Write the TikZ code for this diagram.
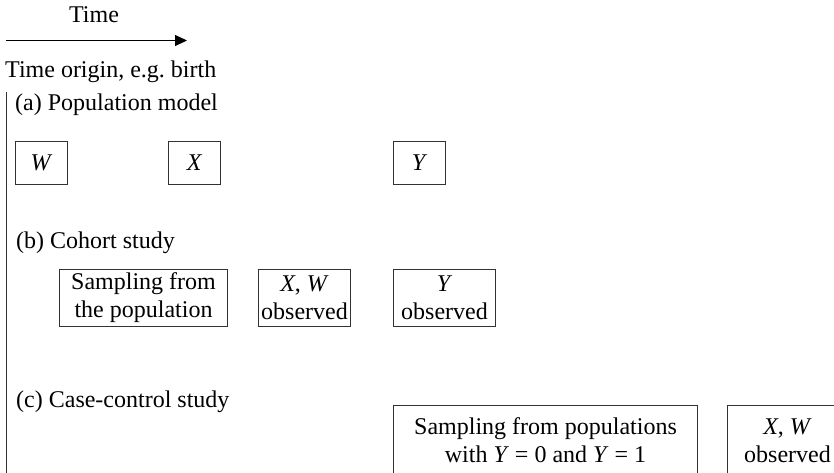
\documentclass[tikz,border=0pt]{standalone}
\usepackage{fontspec}
\setmainfont{Liberation Serif}
\usetikzlibrary{arrows.meta,positioning}

\definecolor{framecolor}{RGB}{50,50,50}

\begin{document}
\begin{tikzpicture}[x=1pt, y=-1pt,
    every node/.style={font=\fontsize{24}{28}\selectfont, inner sep=0pt},
    caption/.style={anchor=base west},
    varbox/.style={draw=framecolor, line width=1pt, anchor=north west, minimum width=52pt, minimum height=43pt},
    stage/.style={draw=framecolor, line width=1pt, anchor=north west, align=center, minimum height=57pt},
    timeline/.style={draw=framecolor, line width=1pt},
    axis/.style={-{Triangle[length=12pt,width=11pt]}, line width=1pt}
    ]
    \clip (0,0) rectangle (834,473);

    % Time axis
    \node[anchor=base] (time) at (94,23) {Time};
    \coordinate (t0) at (6,40.5);
    \coordinate (t1) at (187,40.5);
    \draw[axis] (t0) -- (t1);
    \node[caption] (origin) at (5,78) {Time origin, e.g.\ birth};
    \coordinate (v0) at (6,92);
    \coordinate (v1) at (6,480);
    \draw[timeline] (v0) -- (v1);

    % (a) population model
    \node[caption] (popmodel) at (15,111) {(a) Population model};
    \node[varbox] (W) at (15,141) {\textit{W}};
    \node[varbox] (X) at (168,141) {\textit{X}};
    \node[varbox] (Y) at (393,141) {\textit{Y}};

    % (b) cohort study
    \node[caption] (cohort) at (16,248) {(b) Cohort study};
    \node[stage, minimum width=168pt] (cohortsamp) at (59,269) {Sampling from\\the population};
    \node[stage, minimum width=92pt] (cohortxw) at (258,269) {\textit{X}, \textit{W}\\observed};
    \node[stage, minimum width=102pt] (cohorty) at (393,269) {\textit{Y}\\observed};

    % (c) case-control study
    \node[caption] (casecontrol) at (16,407) {(c) Case-control study};
    \node[stage, minimum width=304pt, minimum height=70pt] (ccsamp) at (393,405) {Sampling from populations\\with \textit{Y} = 0 and \textit{Y} = 1};
    \node[stage, minimum width=120pt, minimum height=70pt] (ccxw) at (727,405) {\textit{X}, \textit{W}\\observed};
\end{tikzpicture}
\end{document}
